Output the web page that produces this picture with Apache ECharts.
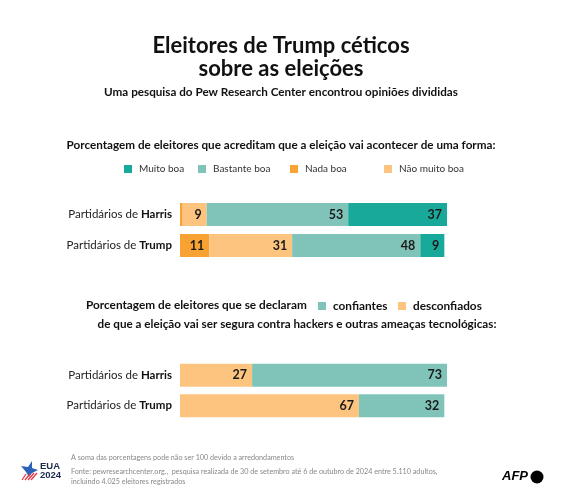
<!DOCTYPE html>
<html><head><meta charset="utf-8">
<script src="https://cdn.jsdelivr.net/npm/echarts@6/dist/echarts.min.js"></script>
<style>html,body{margin:0;padding:0;background:#fff}#c{width:562px;height:500px}</style>
</head><body><div id="c"></div>
<script>
const groups = ['Harris', 'Trump'];
const nadaBoa = [1, 11];
const naoMuitoBoa = [9, 31];
const bastanteBoa = [53, 48];
const muitoBoa = [37, 9];
const desconfiados = [27, 67];
const confiantes = [73, 32];

const F = 'Lato';
const C = {muito: '#19a99a', bastante: '#80c4b9', nada: '#f7a233', nao: '#fcc47f'};

const chart = echarts.init(document.getElementById('c'), null, {renderer: 'canvas'});

function lbl() {
  return {show: true, position: 'insideRight', distance: 5, color: '#1a1a1a', fontFamily: F, fontSize: 12.5, fontWeight: 'bold',
    formatter: p => p.value < 3 ? '' : String(p.value)};
}
function bar(name, data, color, idx) {
  return {name, type: 'bar', stack: 's' + idx, xAxisIndex: idx, yAxisIndex: idx, data, barWidth: 23,
    itemStyle: {color}, label: lbl(), emphasis: {disabled: true}};
}
const yLabel = {fontFamily: F, fontSize: 11.5, color: '#222', margin: 8,
  formatter: v => '{a|Partidários de }{b|' + v + '}',
  rich: {a: {fontFamily: F, fontSize: 11.5, color: '#222'}, b: {fontFamily: F, fontSize: 11.5, fontWeight: 'bold', color: '#111'}}};

function leg(name, left, top, bold) {
  return {data: [name], left, top, itemWidth: 8, itemHeight: 8, itemGap: 0, padding: 0, icon: 'rect', selectedMode: false,
    textStyle: {fontFamily: F, fontSize: bold ? 11.8 : 10, fontWeight: bold ? 'bold' : 'normal', color: bold ? '#111' : '#333', padding: [0, 0, 0, 2]}};
}

chart.setOption({
  backgroundColor: '#fff',
  animation: false,
  title: [
    {text: 'Eleitores de Trump céticos\nsobre as eleições', left: 'center', top: 29,
      textStyle: {fontFamily: F, fontSize: 22, fontWeight: 'bold', color: '#111', lineHeight: 23}},
    {text: 'Uma pesquisa do Pew Research Center encontrou opiniões divididas', left: 'center', top: 81,
      textStyle: {fontFamily: F, fontSize: 11.7, fontWeight: 'bold', color: '#111'}},
    {text: 'Porcentagem de eleitores que acreditam que a eleição vai acontecer de uma forma:', left: 'center', top: 134,
      textStyle: {fontFamily: F, fontSize: 11.7, fontWeight: 'bold', color: '#111'}},
    {text: 'de que a eleição vai ser segura contra hackers e outras ameaças tecnológicas:', left: 292, textAlign: 'center', top: 313,
      textStyle: {fontFamily: F, fontSize: 11.7, fontWeight: 'bold', color: '#111'}}
  ],
  legend: [
    leg('Muito boa', 124, 164, false),
    leg('Bastante boa', 198, 164, false),
    leg('Nada boa', 290, 164, false),
    leg('Não muito boa', 384, 164, false),
    leg('confiantes', 318, 300, true),
    leg('desconfiados', 398, 300, true)
  ],
  grid: [
    {left: 180, width: 267, top: 199, height: 62},
    {left: 180, width: 267, top: 360, height: 61}
  ],
  xAxis: [
    {gridIndex: 0, type: 'value', min: 0, max: 100, show: false},
    {gridIndex: 1, type: 'value', min: 0, max: 100, show: false}
  ],
  yAxis: [
    {gridIndex: 0, type: 'category', data: groups, inverse: true, axisLine: {show: false}, axisTick: {show: false}, axisLabel: yLabel},
    {gridIndex: 1, type: 'category', data: groups, inverse: true, axisLine: {show: false}, axisTick: {show: false}, axisLabel: yLabel}
  ],
  series: [
    bar('Nada boa', nadaBoa, C.nada, 0),
    bar('Não muito boa', naoMuitoBoa, C.nao, 0),
    bar('Bastante boa', bastanteBoa, C.bastante, 0),
    bar('Muito boa', muitoBoa, C.muito, 0),
    bar('desconfiados', desconfiados, C.nao, 1),
    bar('confiantes', confiantes, C.bastante, 1)
  ],
  graphic: [
    {type: 'text', left: 86, top: 299, style: {text: 'Porcentagem de eleitores que se declaram', fontFamily: F, fontSize: 11.8, fontWeight: 'bold', fill: '#111'}},
    {type: 'text', left: 71, top: 454, style: {text: 'A soma das porcentagens pode não ser 100 devido a arredondamentos', fontFamily: F, fontSize: 7.2, fill: '#888'}},
    {type: 'text', left: 71, top: 467, style: {text: 'Fonte: pewresearchcenter.org.,  pesquisa realizada de 30 de setembro até 6 de outubro de 2024 entre 5.110 adultos,\nincluindo 4.025 eleitores registrados', fontFamily: F, fontSize: 7.2, lineHeight: 10, fill: '#888'}},
    {type: 'text', left: 40, top: 461, style: {text: 'EUA\n2024', fontFamily: 'Liberation Sans', fontSize: 9.5, fontWeight: 'bold', lineHeight: 9, fill: '#1d2a4a'}},
    {type: 'polygon', shape: {points: [[21, 466], [28, 467], [32, 461], [32, 468], [38, 470], [32, 473], [29, 477], [26, 472]]}, style: {fill: '#2c63b8'}},
    {type: 'line', shape: {x1: 22, y1: 480, x2: 26, y2: 474}, style: {stroke: '#e63946', lineWidth: 1.3}},
    {type: 'line', shape: {x1: 25, y1: 480, x2: 30, y2: 474}, style: {stroke: '#e63946', lineWidth: 1.3}},
    {type: 'line', shape: {x1: 28, y1: 480, x2: 34, y2: 473}, style: {stroke: '#e63946', lineWidth: 1.3}},
    {type: 'line', shape: {x1: 31, y1: 480, x2: 37, y2: 473}, style: {stroke: '#e63946', lineWidth: 1.3}},
    {type: 'text', left: 502, top: 470, style: {text: 'AFP', fontFamily: 'Liberation Sans', fontSize: 13, fontWeight: 'bold', fontStyle: 'italic', fill: '#000'}},
    {type: 'circle', shape: {cx: 537, cy: 477, r: 6.5}, style: {fill: '#000'}}
  ]
});
</script></body></html>
